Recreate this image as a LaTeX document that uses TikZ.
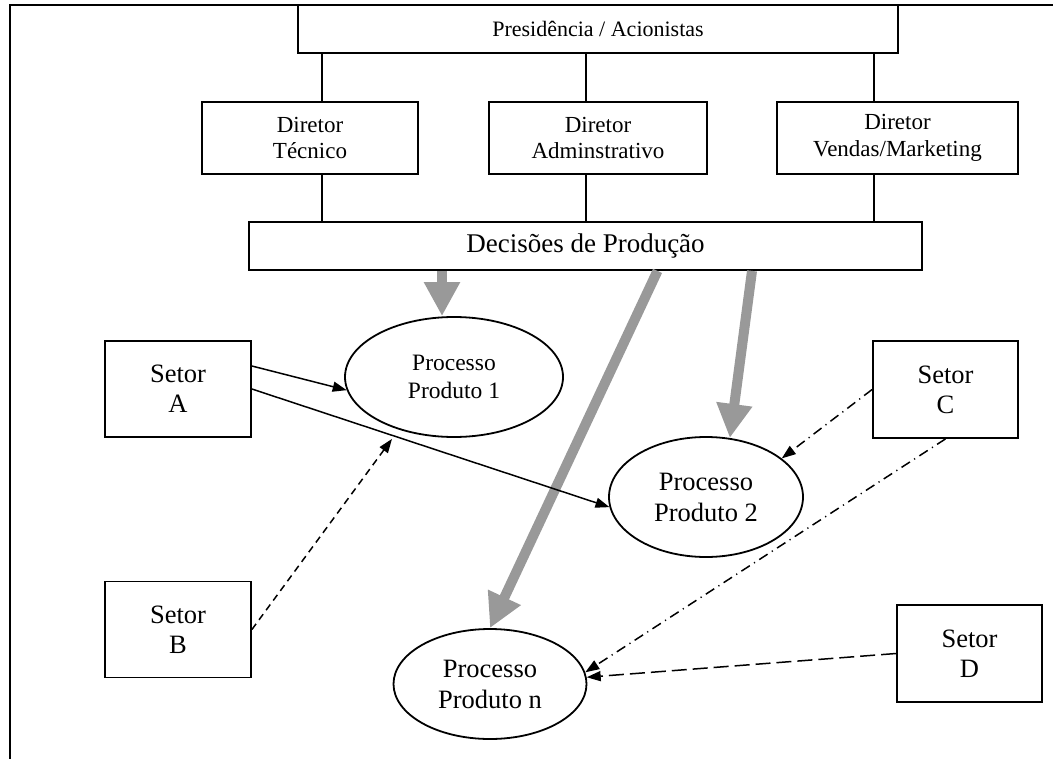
\documentclass[tikz,border=0pt]{standalone}
\usepackage{fontspec}
\setmainfont{Liberation Serif}
\usetikzlibrary{arrows.meta, shapes.geometric}
\definecolor{cinza}{RGB}{153,153,153}

\begin{document}
\begin{tikzpicture}[x=0.5pt, y=-0.5pt,
		caixa/.style={draw, line width=0.9pt, inner sep=0pt, align=center},
		processo/.style={draw, ellipse, line width=0.9pt, inner sep=0pt, align=center},
		fluxo/.style={line width=0.75pt, -{Triangle[length=7pt, width=5pt]}},
		decide/.style={cinza, line width=5pt, -{Triangle[length=17pt, width=17pt]}},
		tracoponto/.style={dash pattern=on 5pt off 2.5pt on 0.6pt off 2.5pt}]
		
		\useasboundingbox (0,0) rectangle (1053,759);
		\draw[line width=1pt] (1053,5) -- (10,5) -- (10,759);
		
		\node[caixa, minimum width=300pt, minimum height=24pt, font=\fontsize{11}{13}\selectfont] (pres) at (598,29) {Presidência / Acionistas};
		\node[caixa, minimum width=108pt, minimum height=36pt, font=\fontsize{11.5}{13.3}\selectfont] (dtec) at (310,138) {Diretor\\Técnico};
		\node[caixa, minimum width=109pt, minimum height=36pt, font=\fontsize{11.5}{13.3}\selectfont] (dadm) at (598,138) {Diretor\\Adminstrativo};
		\node[caixa, minimum width=120.5pt, minimum height=36pt, font=\fontsize{11.5}{13.3}\selectfont] (dven) at (897.5,138) {Diretor\\Vendas/Marketing};
		\node[caixa, minimum width=336.5pt, minimum height=24pt, font=\fontsize{13.5}{15}\selectfont] (dec) at (585.5,246) {Decisões de Produção};
		
		\node[caixa, minimum width=73pt, minimum height=48pt, font=\fontsize{13.25}{15}\selectfont] (sa) at (178,389) {Setor\\A};
		\node[caixa, minimum width=73pt, minimum height=48pt, font=\fontsize{13.25}{15}\selectfont] (sb) at (178,629.5) {Setor\\B};
		\node[caixa, minimum width=72.5pt, minimum height=48.5pt, font=\fontsize{13.25}{15}\selectfont] (sc) at (945.5,389.5) {Setor\\C};
		\node[caixa, minimum width=72.5pt, minimum height=48.5pt, font=\fontsize{13.25}{15}\selectfont] (sd) at (969.5,653.5) {Setor\\D};
		
		\node[processo, minimum width=109pt, minimum height=60pt, font=\fontsize{11.75}{14}\selectfont] (p1) at (454,377) {Processo\\Produto 1};
		\node[processo, minimum width=97pt, minimum height=60pt, font=\fontsize{13.25}{15.5}\selectfont] (p2) at (706,497) {Processo\\Produto 2};
		\node[processo, minimum width=96.5pt, minimum height=55pt, font=\fontsize{13.25}{15.5}\selectfont] (pn) at (490,684) {Processo\\Produto n};
		
		% colunas da hierarquia
		\coordinate (c1) at (322,0);
		\coordinate (c2) at (586,0);
		\coordinate (c3) at (874,0);
		\draw[line width=0.9pt]
		(c1 |- pres.south) -- (c1 |- dtec.north) (c1 |- dtec.south) -- (c1 |- dec.north)
		(c2 |- pres.south) -- (c2 |- dadm.north) (c2 |- dadm.south) -- (c2 |- dec.north)
		(c3 |- pres.south) -- (c3 |- dven.north) (c3 |- dven.south) -- (c3 |- dec.north);
		
		\draw[decide] ([xshift=-71.75pt]dec.south) -- ([xshift=-6pt]p1.north);
		\draw[decide] ([xshift=83.25pt]dec.south) -- (p2.68);
		\draw[decide] ([xshift=36pt]dec.south) -- (pn.north);
		
		\draw[fluxo] ([yshift=11.5pt]sa.east) -- (p1.187);
		\draw[fluxo] (sa.east) -- (p2.186);
		\draw[fluxo, dash pattern=on 3.5pt off 2.5pt] (sb.east) -- ([xshift=-31pt, yshift=-0.5pt]p1.south);
		\draw[fluxo, tracoponto] (sc.west) -- (p2.27);
		\draw[fluxo, tracoponto] (sc.south) -- (pn.7);
		\draw[fluxo, dash pattern=on 7.5pt off 3pt] (sd.west) -- (pn.4);
		
	\end{tikzpicture}
\end{document}
